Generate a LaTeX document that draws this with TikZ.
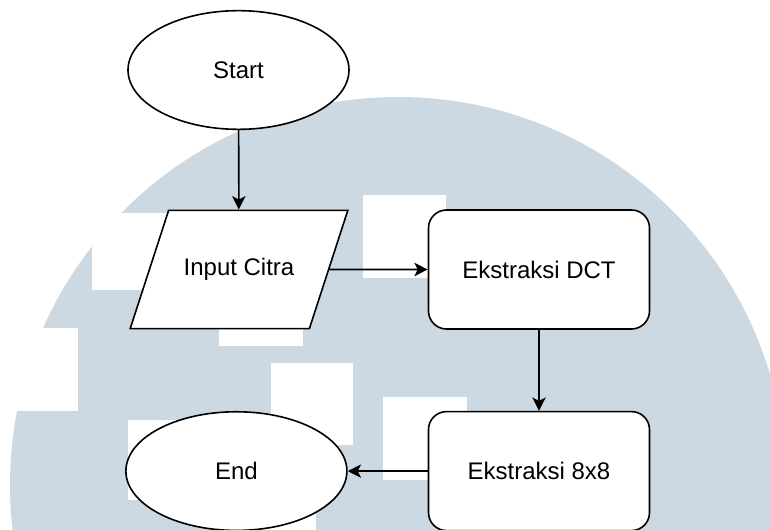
\documentclass[tikz,border=0pt]{standalone}
\usepackage{fontspec}
\setmainfont{Liberation Sans}
\usetikzlibrary{positioning,shapes.geometric,arrows.meta}
\definecolor{watermark}{RGB}{204,216,226}

\begin{document}
\begin{tikzpicture}[
  x = 0.75pt, y = -0.75pt,
  font = \fontsize{18}{21}\selectfont,
  terminal/.style = {ellipse, draw, line width=1.2pt, fill=white,
    minimum width=165.75pt, minimum height=89pt, inner sep=0pt},
  io-box/.style = {trapezium, trapezium left angle=72, trapezium right angle=108,
    draw, line width=1.2pt, fill=white, inner xsep=11.25pt, inner ysep=36pt},
  process-box/.style = {rectangle, rounded corners=13.5pt, draw, line width=1.2pt,
    fill=white, minimum width=165.75pt, minimum height=89.25pt},
  flow-arrow/.style = {-{Stealth[length=10pt,width=10pt,inset=2.5pt]}, line width=1.2pt},
  ]
  \useasboundingbox (0,0) rectangle (770,530);

  % watermark behind the chart
  \begin{scope}
    \clip (0,0) rectangle (770,530);
    \fill[watermark] (398,485) circle [radius=291pt];
    \foreach \xa/\ya/\xb/\yb in {363/195/446/278, 92/213/175/290, 219/263/303/346,
      271/363/353/445, 383/397/467/480, -5/328/78/411, 128/420/211/500, 233/508/316/535}
      \fill[white] (\xa,\ya) rectangle (\xb,\yb);
  \end{scope}

  \node[terminal] (start) at (238.5,70) {Start};
  \node[io-box] (input-citra) at (239,269.5) {Input Citra};
  \node[process-box] (ekstraksi-dct) at (539,269.5) {Ekstraksi DCT};
  \node[process-box, below=60.75pt of ekstraksi-dct] (ekstraksi-8x8) {Ekstraksi 8x8};
  \node[terminal, left=60pt of ekstraksi-8x8] (end) {End};

  \draw [flow-arrow] (start) -- (input-citra);
  \draw [flow-arrow] (input-citra) -- (ekstraksi-dct);
  \draw [flow-arrow] (ekstraksi-dct) -- (ekstraksi-8x8);
  \draw [flow-arrow] (ekstraksi-8x8) -- (end);
\end{tikzpicture}
\end{document}
